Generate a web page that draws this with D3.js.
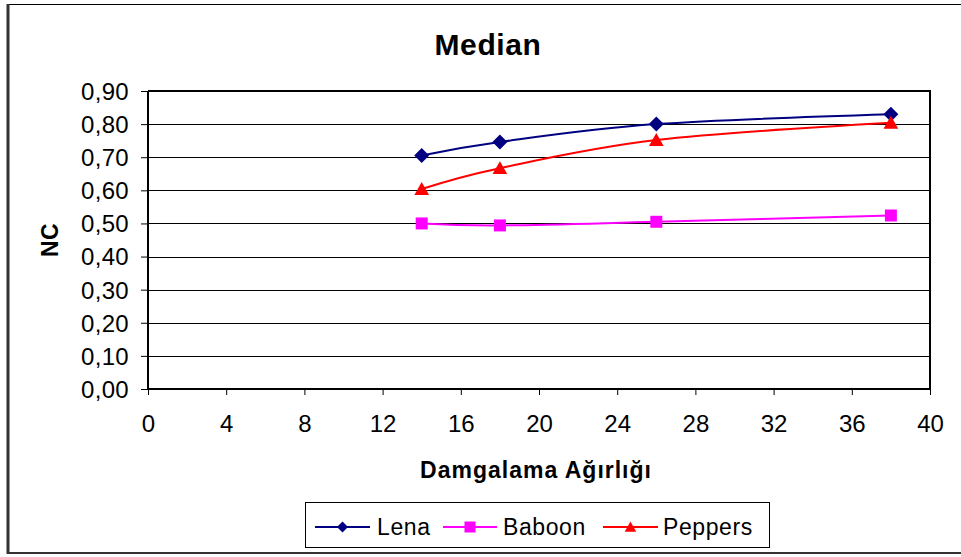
<!DOCTYPE html>
<html>
<head>
<meta charset="utf-8">
<script src="https://cdn.jsdelivr.net/npm/d3@7/dist/d3.min.js"></script>
<style>
  html, body { margin: 0; padding: 0; background: #fff; }
  svg { display: block; font-family: Arial, "Liberation Sans", sans-serif; }
</style>
</head>
<body>
<svg id="chart" width="961" height="557"></svg>
<script>
// ---- data ----
const xValues = [14, 18, 26, 38];
const lenaValues = [0.705, 0.746, 0.800, 0.830];
const baboonValues = [0.500, 0.494, 0.505, 0.524];
const peppersValues = [0.604, 0.667, 0.752, 0.804];
const seriesNames = ["Lena", "Baboon", "Peppers"];
const xTicks = [0, 4, 8, 12, 16, 20, 24, 28, 32, 36, 40];
const yTicks = [0, 0.1, 0.2, 0.3, 0.4, 0.5, 0.6, 0.7, 0.8, 0.9];
const titleText = "Median";
const xTitle = "Damgalama Ağırlığı";
const yTitle = "NC";

// ---- setup ----
const svg = d3.select("#chart");
const L = 148, R = 930, T = 91, B = 389;
const x = d3.scaleLinear().domain([0, 40]).range([L, R]);
const y = d3.scaleLinear().domain([0, 0.9]).range([B, T]);

const series = [
  { name: seriesNames[0], values: lenaValues, color: "#000080", marker: "diamond" },
  { name: seriesNames[1], values: baboonValues, color: "#FF00FF", marker: "square" },
  { name: seriesNames[2], values: peppersValues, color: "#FF0000", marker: "triangle" }
];

svg.append("rect").attr("x", 0).attr("y", 0).attr("width", 961).attr("height", 557).attr("fill", "#fff");

// outer chart border
svg.append("line").attr("x1", 7).attr("x2", 961).attr("y1", 4.5).attr("y2", 4.5).attr("stroke", "#000").attr("stroke-width", 1);
svg.append("line").attr("x1", 8).attr("x2", 8).attr("y1", 4).attr("y2", 554).attr("stroke", "#333").attr("stroke-width", 3);
svg.append("line").attr("x1", 7).attr("x2", 961).attr("y1", 553).attr("y2", 553).attr("stroke", "#333").attr("stroke-width", 2);

// title
svg.append("text").attr("x", 488).attr("y", 55).attr("text-anchor", "middle")
  .attr("font-size", 30).attr("font-weight", "bold").attr("letter-spacing", 0.6)
  .text(titleText);

// gridlines
svg.append("g").selectAll("line").data(yTicks.filter(d => d > 0 && d < 0.9)).join("line")
  .attr("x1", L).attr("x2", R)
  .attr("y1", d => Math.round(y(d)) + 0.5).attr("y2", d => Math.round(y(d)) + 0.5)
  .attr("stroke", "#000").attr("stroke-width", 1);

// plot border top/right
svg.append("line").attr("x1", L).attr("x2", R + 1).attr("y1", T).attr("y2", T).attr("stroke", "#000").attr("stroke-width", 2);
svg.append("line").attr("x1", R).attr("x2", R).attr("y1", T).attr("y2", B).attr("stroke", "#000").attr("stroke-width", 2);

// axes
const fmt = d => d3.format(".2f")(d).replace(".", ",");
const yAxis = d3.axisLeft(y).tickValues(yTicks).tickFormat(fmt).tickSize(7).tickPadding(12);
const gy = svg.append("g").attr("transform", `translate(${L},0)`).call(yAxis);
gy.select(".domain").attr("stroke", "#000").attr("stroke-width", 2).attr("d", `M0,${T}V${B + 1}`);
gy.selectAll(".tick line").attr("stroke", "#000");
gy.selectAll(".tick text").attr("font-size", 24).attr("font-family", "Arial, 'Liberation Sans', sans-serif")
  .attr("letter-spacing", 0.3).attr("fill", "#000").attr("dy", "0.35em");

const xAxis = d3.axisBottom(x).tickValues(xTicks).tickFormat(d3.format("d")).tickSize(6).tickPadding(20);
const gx = svg.append("g").attr("transform", `translate(0,${B})`).call(xAxis);
gx.select(".domain").attr("stroke", "#000").attr("stroke-width", 2).attr("d", `M${L - 1},0H${R + 1}`);
gx.selectAll(".tick line").attr("stroke", "#000");
gx.selectAll(".tick text").attr("font-size", 24).attr("font-family", "Arial, 'Liberation Sans', sans-serif")
  .attr("fill", "#000");

// axis titles
svg.append("text").attr("x", 536).attr("y", 478).attr("text-anchor", "middle")
  .attr("font-size", 23).attr("font-weight", "bold").attr("letter-spacing", 1)
  .text(xTitle);
svg.append("text").attr("transform", "translate(58,240) rotate(-90)").attr("text-anchor", "middle")
  .attr("font-size", 23).attr("font-weight", "bold").attr("letter-spacing", 0.5)
  .text(yTitle);

// markers
function markerPath(type, s) {
  if (type === "diamond") return `M0,${-s}L${s},0L0,${s}L${-s},0Z`;
  if (type === "square") return `M${-s},${-s}H${s}V${s}H${-s}Z`;
  return `M0,${-s * 1.0}L${s * 1.05},${s * 0.85}H${-s * 1.05}Z`;
}
const markerSize = { diamond: 7.5, square: 6, triangle: 7 };

const line = d3.line().x(d => x(d[0])).y(d => y(d[1])).curve(d3.curveCatmullRom.alpha(0));

series.forEach(s => {
  const pts = xValues.map((xv, i) => [xv, s.values[i]]);
  svg.append("path").datum(pts).attr("d", line)
    .attr("fill", "none").attr("stroke", s.color).attr("stroke-width", 2);
  svg.append("g").selectAll("path").data(pts).join("path")
    .attr("transform", d => `translate(${x(d[0])},${y(d[1])})`)
    .attr("d", markerPath(s.marker, markerSize[s.marker]))
    .attr("fill", s.color);
});

// legend
const lg = svg.append("g");
lg.append("rect").attr("x", 305.5).attr("y", 502.5).attr("width", 464).attr("height", 45)
  .attr("fill", "#fff").attr("stroke", "#000").attr("stroke-width", 1);
const legendPos = [
  { lx1: 315, lx2: 370, tx: 377 },
  { lx1: 443, lx2: 497, tx: 503 },
  { lx1: 603, lx2: 658, tx: 663 }
];
const ly = 527;
series.forEach((s, i) => {
  const p = legendPos[i];
  lg.append("line").attr("x1", p.lx1).attr("x2", p.lx2).attr("y1", ly).attr("y2", ly)
    .attr("stroke", s.color).attr("stroke-width", 2);
  lg.append("path").attr("transform", `translate(${(p.lx1 + p.lx2) / 2},${ly})`)
    .attr("d", markerPath(s.marker, 5.5)).attr("fill", s.color);
  lg.append("text").attr("x", p.tx).attr("y", ly + 8).attr("font-size", 23).attr("letter-spacing", 0.6)
    .text(s.name);
});
</script>
</body>
</html>
